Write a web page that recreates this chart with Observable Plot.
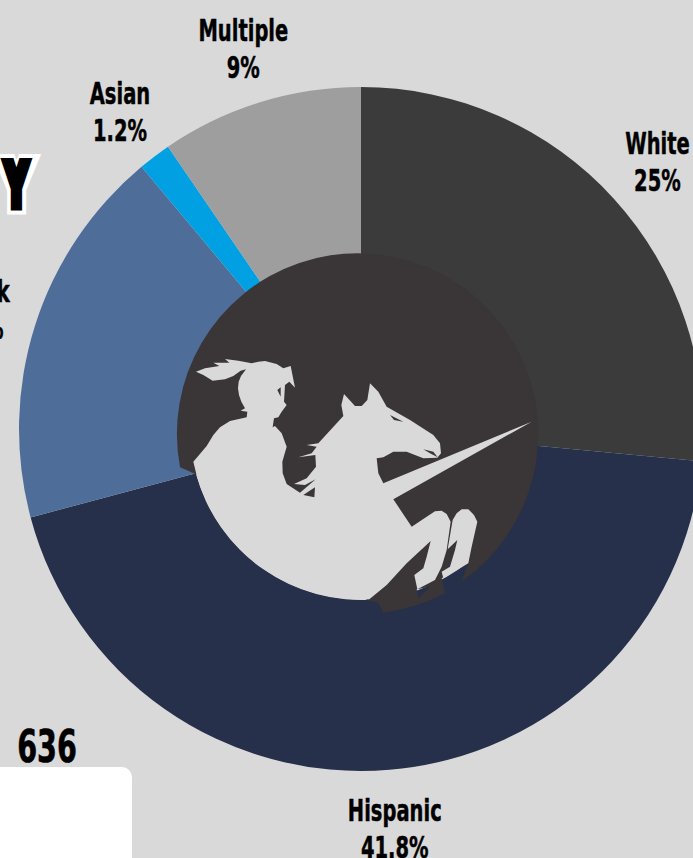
<!DOCTYPE html>
<html>
<head>
<meta charset="utf-8">
<script src="https://cdn.jsdelivr.net/npm/d3@7"></script>
<script src="https://cdn.jsdelivr.net/npm/@observablehq/plot@0.6"></script>
<style>
html,body{margin:0;padding:0;background:#d9d9d9;overflow:hidden}
#page{position:relative;width:693px;height:858px;overflow:hidden;background:#d9d9d9}
#page svg{position:absolute;left:0;top:0;display:block}
.t{position:absolute;font-family:"DejaVu Sans",sans-serif;font-weight:700;color:#000;line-height:1;text-align:center}
#count{left:0;width:94px;top:725px;font-size:44px;transform:scaleX(.65);-webkit-text-stroke:.7px #000}
#card{position:absolute;left:-12px;top:767px;width:144px;height:110px;background:#fff;border-radius:10px}
</style>
</head>
<body>
<div id="page"></div>
<script>
const categories = ["White", "Hispanic", "Black", "Asian", "Multiple"];
const shares = [25, 41.8, 17.04, 1.46, 9];
const shareLabels = ["25%", "41.8%", "17%", "1.2%", "9%"];
const sliceColors = ["#3b3b3b", "#26304a", "#4f6d99", "#00a0e3", "#9e9e9e"];
const titleText = "Y";
const totalText = "636";

const rows = categories.map((c, i) => ({category: c, share: shares[i], label: c + "\n" + shareLabels[i]}));

const cx = 361, cy = 429, outerR = 342, holeR = 171, labelR = 400;
const bg = "#d9d9d9", logoDark = "#3a3536";

// logo artwork, drawn in a 3x local space
const logoDisc = "M30,382 A542,542 0 1 1 875,725 L895,670 L815,715 L825,760 A548,548 0 0 1 640,818 L625,790 L590,780 L300,500 Z M740,748 L745,775 L780,740 Z";
const logoRider = "M70,365 L110,318 L130,285 L150,262 L180,243 L230,232 L232,215 L212,212 L225,205 L214,185 L207,165 L204,145 L206,125 L213,108 L228,88 L212,92 L190,108 L165,118 L128,122 L100,105 L78,95 L105,85 L148,78 L130,68 L178,68 L165,57 L205,62 L245,70 L265,65 L285,63 L320,72 L340,85 L362,78 L375,143 L358,125 L345,135 L342,185 L350,195 L335,215 L325,232 L312,235 L308,262 L315,258 L335,280 L350,320 L337,365 L338,400 L350,432 L390,458 L437,418 L405,435 L372,432 L410,415 L438,380 L436,345 L385,352 L425,340 L440,320 L410,315 L445,310 L520,228 L514,195 L522,162 L555,198 L575,198 L592,180 L600,130 L625,155 L650,200 L720,240 L790,285 L810,310 L813,340 L802,353 L760,355 L710,335 L670,335 L640,352 L620,355 L600,342 L620,355 L625,400 L640,430 L1085,245 L670,478 L725,560 L770,530 L795,514 L815,512 L830,522 L842,545 L830,630 L815,680 L795,720 L742,748 L733,705 L760,685 L770,650 L782,603 L710,670 L650,735 L598,778 A513,513 0 0 1 70,365 Z";
const logoFarLeg = "M875,508 L895,508 L912,525 L922,545 L905,620 L895,670 L820,715 L815,695 L840,680 L855,630 L862,600 L833,628 L848,540 L860,520 Z";
const logoDetails = "M660,225 L700,245 L672,240 Z M322,150 L332,142 L332,170 Z M760,328 L790,335 L803,352 L780,340 Z M400,465 L435,442 L433,472 Z";

function donutRender(index, scales, values) {
  const arc = d3.arc().innerRadius(holeR).outerRadius(outerR);
  const g = d3.create("svg:g").attr("transform", `translate(${cx},${cy})`);
  for (const i of index) {
    g.append("path")
      .attr("d", arc({startAngle: values.x1[i], endAngle: values.x2[i]}))
      .attr("fill", values.fill[i]);
  }
  return g.node();
}

const squeeze = (g, k) => {
  d3.select(g).selectAll("text").attr("transform", function () {
    return (this.getAttribute("transform") || "") + ` scale(${k},1)`;
  });
  return g;
};

function labelRender(index, scales, values, dimensions, context, next) {
  const X = Array.from(values.x, a => cx + labelR * Math.sin(a));
  const Y = Array.from(values.x, a => cy - labelR * Math.cos(a));
  return squeeze(next(index, scales, {...values, x: X, y: Y}, dimensions, context), 0.65);
}

function logo() {
  const g = d3.create("svg:g").attr("transform", "translate(170,340) scale(0.33333)");
  g.append("path").attr("d", logoDisc).attr("fill", logoDark).attr("fill-rule", "evenodd");
  g.append("path").attr("d", logoRider).attr("fill", bg);
  g.append("path").attr("d", logoFarLeg).attr("fill", bg);
  g.append("path").attr("d", logoDetails).attr("fill", logoDark);
  return g.node();
}

const titleMark = (color, strokeWidth, k) => Plot.text([titleText], {
  text: d => d,
  frameAnchor: "top-left",
  dx: 16,
  dy: 186,
  textAnchor: "middle",
  lineAnchor: "middle",
  fontFamily: "DejaVu Sans",
  fontWeight: 700,
  fontSize: 56,
  fill: color,
  stroke: color,
  strokeWidth,
  strokeLinejoin: "miter",
  render: (index, scales, values, dimensions, context, next) =>
    squeeze(next(index, scales, values, dimensions, context), k)
});

const chart = Plot.plot({
  width: 693,
  height: 858,
  margin: 0,
  style: {background: "transparent", overflow: "hidden"},
  x: {domain: [0, d3.sum(shares)], range: [0, 2 * Math.PI], axis: null},
  color: {domain: categories, range: sliceColors},
  marks: [
    titleMark("#fff", 20, 0.62),
    titleMark("#000", 12, 0.5),
    Plot.barX(rows, Plot.stackX({x: "share", fill: "category", render: donutRender})),
    logo,
    Plot.text(rows, Plot.stackX({
      x: "share",
      text: "label",
      render: labelRender,
      fontFamily: "DejaVu Sans",
      fontWeight: 700,
      fontSize: 30,
      lineHeight: 1.23,
      fill: "#000",
      stroke: "#000",
      strokeWidth: 0.5
    }))
  ]
});

const page = document.getElementById("page");
page.appendChild(chart);
const count = document.createElement("div");
count.id = "count"; count.className = "t"; count.textContent = totalText;
page.appendChild(count);
const card = document.createElement("div");
card.id = "card";
page.appendChild(card);
</script>
</body>
</html>
